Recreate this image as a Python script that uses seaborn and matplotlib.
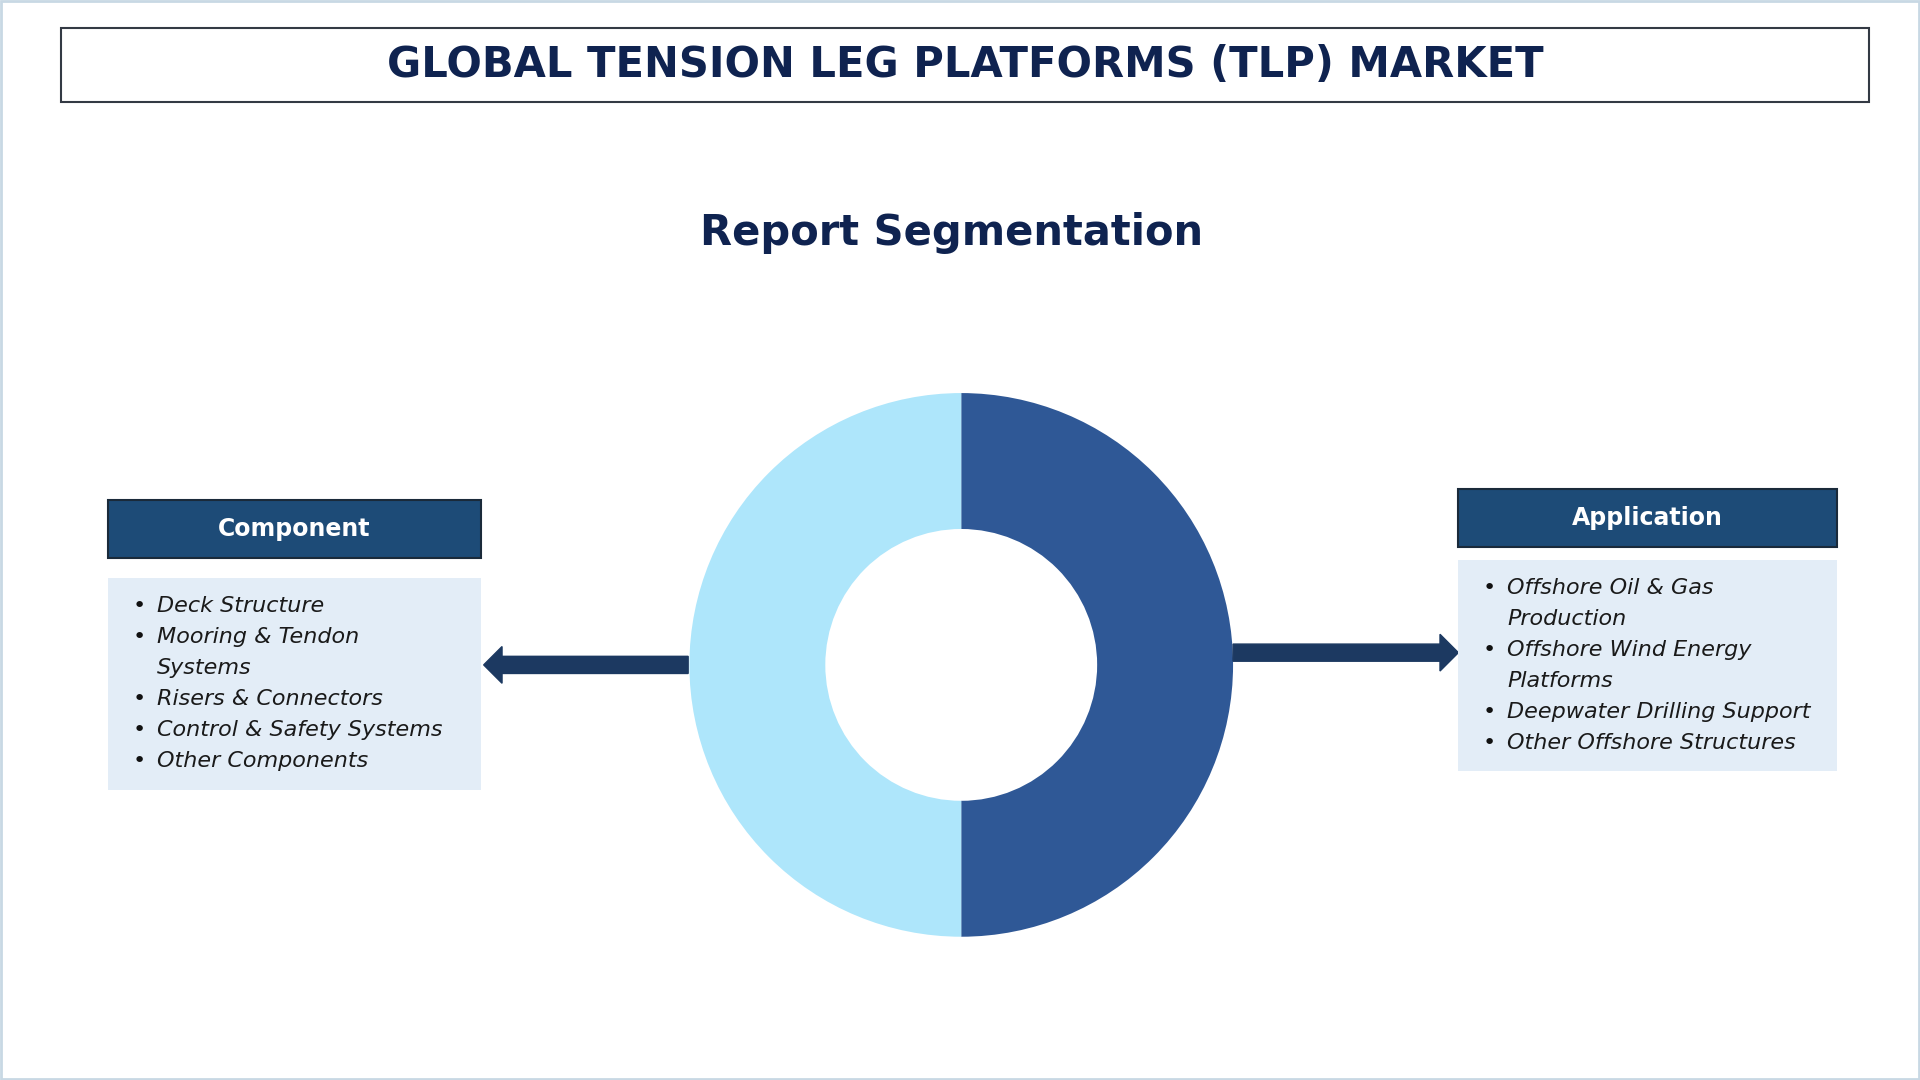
import matplotlib
matplotlib.use("Agg")
import matplotlib.pyplot as plt
from matplotlib.patches import Rectangle, FancyArrow
import seaborn as sns

# data
title = "GLOBAL TENSION LEG PLATFORMS (TLP) MARKET"
subtitle = "Report Segmentation"
segments = ["Component", "Application"]
shares = [50, 50]
component_items = ["Deck Structure", "Mooring & Tendon\nSystems", "Risers & Connectors",
                   "Control & Safety Systems", "Other Components"]
application_items = ["Offshore Oil & Gas\nProduction", "Offshore Wind Energy\nPlatforms",
                     "Deepwater Drilling Support", "Other Offshore Structures"]

sns.set_theme(style="white")
plt.rcParams['font.family'] = ['DejaVu Sans']

W, H = 1568, 882
navy = "#0f2350"
header_col = "#1d4b77"
list_bg = "#e3edf7"
arrow_col = "#1c3961"

fig = plt.figure(figsize=(19.2, 10.8), dpi=100)
fig.patch.set_facecolor("white")

def fx(x): return x / W
def fy(y): return 1 - y / H

def box(x0, y0, x1, y1, **kw):
    fig.patches.append(Rectangle((fx(x0), fy(y1)), fx(x1) - fx(x0), fy(y0) - fy(y1),
                                 transform=fig.transFigure, **kw))

# outer frame
box(1, 1, W - 1, H - 1, facecolor="none", edgecolor="#c8d8e4", linewidth=2)
# title box
box(50, 23, 1526, 83, facecolor="white", edgecolor="#333a44", linewidth=1.5)
fig.text(fx(788), fy(53), title, ha="center", va="center", fontsize=30,
         fontweight="bold", color=navy)
fig.text(fx(777), fy(190), subtitle, ha="center", va="center", fontsize=30,
         fontweight="heavy", color=navy)

# donut
r = 222
ax = fig.add_axes([fx(785 - r), fy(543 + r), 2 * r / W, 2 * r / H])
ax.pie(shares, colors=["#2f5896", "#aee6fb"], startangle=90, counterclock=False,
       wedgeprops=dict(width=0.5, linewidth=0))
ax.set_xlim(-1, 1)
ax.set_ylim(-1, 1)
ax.axis("off")

# arrows
def arrow(x_start, x_end, y):
    fig.patches.append(FancyArrow(fx(x_start), fy(y), fx(x_end) - fx(x_start), 0,
                                  width=14 / H, head_width=30 / H, head_length=15 / W,
                                  length_includes_head=True, color=arrow_col,
                                  transform=fig.transFigure))
arrow(562, 395, 543)
arrow(1007, 1191, 533)

def panel(x0, x1, hy0, hy1, ly0, ly1, name, items):
    box(x0, hy0, x1, hy1, facecolor=header_col, edgecolor="#1a2a3a", linewidth=1.5)
    fig.text(fx((x0 + x1) / 2), fy((hy0 + hy1) / 2), name, ha="center", va="center",
             fontsize=17, fontweight="bold", color="white")
    box(x0, ly0, x1, ly1, facecolor=list_bg, edgecolor="none")
    y = ly0 + 23
    for it in items:
        lines = it.split("\n")
        fig.text(fx(x0 + 20), fy(y), "\u2022", ha="left", va="center", fontsize=16, color="#111")
        for ln in lines:
            fig.text(fx(x0 + 40), fy(y), ln, ha="left", va="center", fontsize=16,
                     style="italic", color="#1a1a1a")
            y += 25.3

panel(88, 393, 408, 456, 472, 645, segments[0], component_items)
panel(1191, 1500, 399, 447, 457, 630, segments[1], application_items)

fig.savefig("out.png", dpi=100)
